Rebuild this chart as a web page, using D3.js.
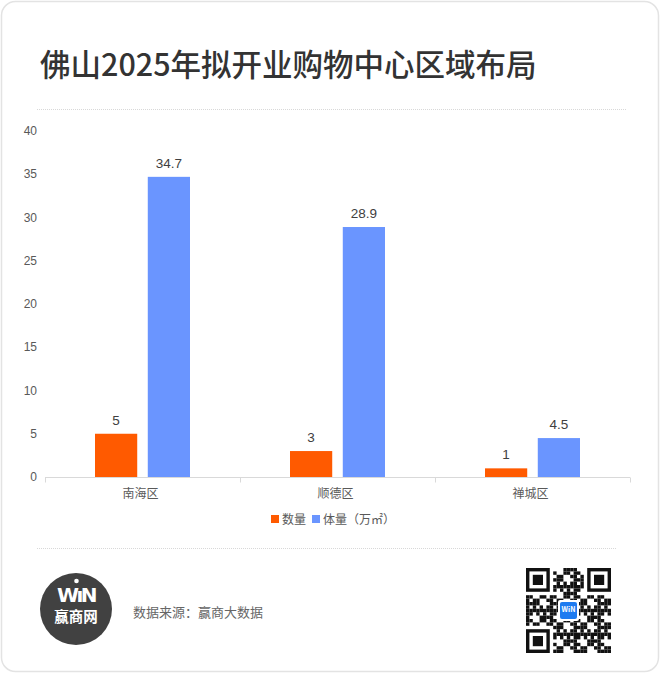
<!DOCTYPE html>
<html><head><meta charset="utf-8">
<script src="https://cdn.jsdelivr.net/npm/d3@7"></script>
<style>
html,body{margin:0;padding:0;background:#fff;}
svg{display:block;font-family:"Noto Sans CJK SC","Noto Sans",sans-serif;}
</style></head>
<body>
<svg id="chart" width="660" height="674"></svg>
<script>
const categories = ["南海区", "顺德区", "禅城区"];
const seriesNames = ["数量", "体量（万㎡）"];
const countValues = [5, 3, 1];
const volumeValues = [34.7, 28.9, 4.5];
const yTicks = [0, 5, 10, 15, 20, 25, 30, 35, 40];
const colors = ["#FF5A00", "#6A95FF"];

const svg = d3.select("#chart");
// card
svg.append("rect").attr("x", 1.5).attr("y", 1.5).attr("width", 657).attr("height", 670)
  .attr("rx", 14).attr("fill", "#fff").attr("stroke", "#e3e3e3").attr("stroke-width", 1.5);

// title
svg.append("text").attr("x", 40).attr("y", 76).attr("font-size", 30.5).attr("font-weight", 500)
  .attr("fill", "#333").text("佛山2025年拟开业购物中心区域布局");

// separators
svg.append("line").attr("x1", 37).attr("x2", 627).attr("y1", 109.5).attr("y2", 109.5)
  .attr("stroke", "#d8d8d8").attr("stroke-dasharray", "1,1");
svg.append("line").attr("x1", 37).attr("x2", 617).attr("y1", 548.5).attr("y2", 548.5)
  .attr("stroke", "#d8d8d8").attr("stroke-dasharray", "1,1");

const x = d3.scaleBand().domain(categories).range([45, 630]).padding(0);
const xs = d3.scaleBand().domain([0, 1]).range([50, 145]).paddingInner(0.2);
const y = d3.scaleLinear().domain([0, 40]).range([477, 131]);

// y tick labels
svg.append("g").selectAll("text").data(yTicks).join("text")
  .attr("x", 37).attr("y", d => y(d)).attr("dy", "0.35em").attr("text-anchor", "end")
  .attr("font-family", "Arial, 'Liberation Sans', sans-serif")
  .attr("font-size", 12).attr("fill", "#595959").text(d => d);

// x axis
const xAxisG = svg.append("g").attr("transform", "translate(0,477.5)");
xAxisG.append("line").attr("x1", 45).attr("x2", 630).attr("stroke", "#d9d9d9");
const bounds = [45].concat(categories.map(c => x(c) + x.bandwidth()));
xAxisG.selectAll("line.tk").data(bounds).join("line").attr("class", "tk")
  .attr("x1", d => d + 0.5).attr("x2", d => d + 0.5).attr("y1", 0).attr("y2", 5).attr("stroke", "#d9d9d9");
xAxisG.selectAll("text").data(categories).join("text")
  .attr("x", d => x(d) + x.bandwidth() / 2 - 2).attr("y", 20).attr("text-anchor", "middle")
  .attr("font-size", 12).attr("fill", "#595959").text(d => d);

// bars
const rows = categories.map((c, i) => ({ c, vals: [countValues[i], volumeValues[i]] }));
const g = svg.append("g");
rows.forEach(r => {
  r.vals.forEach((v, k) => {
    const bx = x(r.c) + xs(k);
    g.append("rect").attr("x", bx).attr("y", y(v)).attr("width", xs.bandwidth())
      .attr("height", y(0) - y(v)).attr("fill", colors[k]);
    g.append("text").attr("x", bx + xs.bandwidth() / 2).attr("y", y(v) - 9)
      .attr("text-anchor", "middle").attr("font-family", "Arial, 'Liberation Sans', sans-serif")
      .attr("font-size", 13.5).attr("fill", "#404040").text(v);
  });
});

// legend
const legend = svg.append("g").attr("transform", "translate(271,520)");
let lx = 0;
seriesNames.forEach((n, k) => {
  legend.append("rect").attr("x", lx).attr("y", -5).attr("width", 8).attr("height", 8).attr("fill", colors[k]);
  const t = legend.append("text").attr("x", lx + 11).attr("y", 0).attr("dy", "0.35em")
    .attr("font-size", 12).attr("fill", "#595959").text(n);
  lx += 11 + t.node().getComputedTextLength() + 6;
});

// footer logo
const logo = svg.append("g").attr("transform", "translate(76,609)");
logo.append("circle").attr("r", 36).attr("fill", "#414141");
logo.append("text").attr("y", -7).attr("text-anchor", "middle").attr("font-size", 20)
  .attr("font-weight", "900").attr("font-family", "'DejaVu Sans', sans-serif")
  .attr("fill", "#fff").attr("letter-spacing", -2.5).text("WıN");
logo.append("circle").attr("cx", 0.5).attr("cy", -28).attr("r", 2.3).attr("fill", "#fff");
logo.append("text").attr("y", 13).attr("text-anchor", "middle").attr("font-size", 14.5)
  .attr("font-weight", "bold").attr("fill", "#fff").text("赢商网");

svg.append("text").attr("x", 133).attr("y", 617).attr("font-size", 13).attr("fill", "#666")
  .text("数据来源：赢商大数据");

// QR-like decoration
const qr = svg.append("g").attr("transform", "translate(526,568)");
const N = 25, m = 3.4;
const cells = [];
for (let i = 0; i < N; i++) for (let j = 0; j < N; j++) {
  const inFinder = (i < 8 && j < 8) || (i < 8 && j >= N - 8) || (i >= N - 8 && j < 8);
  if (inFinder) continue;
  if (((i * 7 + j * 13 + i * j * 3) % 7) < 4) cells.push([i, j]);
}
qr.selectAll("rect.c").data(cells).join("rect").attr("class", "c")
  .attr("x", d => d[1] * m).attr("y", d => d[0] * m).attr("width", m).attr("height", m).attr("fill", "#111");
[[0, 0], [0, N - 7], [N - 7, 0]].forEach(([r, c]) => {
  qr.append("rect").attr("x", c * m + m / 2).attr("y", r * m + m / 2).attr("width", 6 * m).attr("height", 6 * m)
    .attr("fill", "none").attr("stroke", "#111").attr("stroke-width", m);
  qr.append("rect").attr("x", (c + 2) * m).attr("y", (r + 2) * m).attr("width", 3 * m).attr("height", 3 * m).attr("fill", "#111");
});
qr.append("rect").attr("x", 32).attr("y", 32).attr("width", 21).attr("height", 21).attr("rx", 2)
  .attr("fill", "#fff");
qr.append("rect").attr("x", 34).attr("y", 34).attr("width", 17).attr("height", 17).attr("rx", 2)
  .attr("fill", "#1E7BF0");
qr.append("text").attr("x", 42.5).attr("y", 44).attr("text-anchor", "middle").attr("font-size", 7)
  .attr("font-weight", "bold").attr("fill", "#fff").text("WiN");
</script>
</body></html>
